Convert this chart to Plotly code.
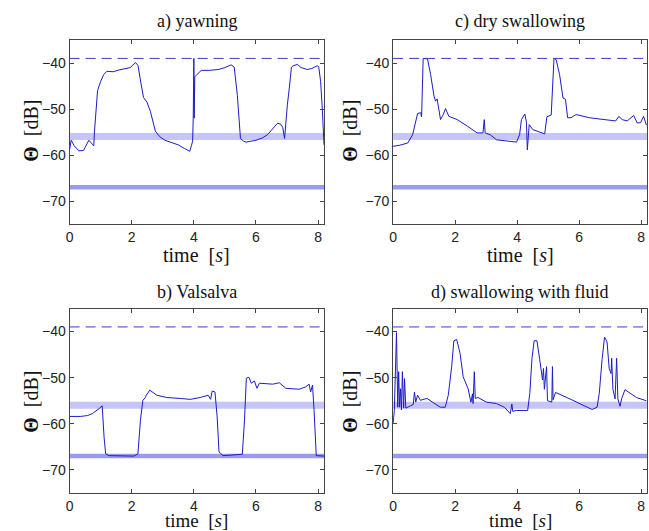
import plotly.graph_objects as go

# ---------------- data ----------------
panel_titles = ["a) yawning", "c) dry swallowing", "b) Valsalva", "d) swallowing with fluid"]
x_ticks = [0, 2, 4, 6, 8]
y_ticks = [-40, -50, -60, -70]
threshold_dashed = -39.0
band_upper = -56.0
band_lower = -67.0

t_a = [0.0, 0.05, 0.15, 0.3, 0.45, 0.55, 0.62, 0.7, 0.78, 0.8, 0.85, 0.9, 1.0, 1.1, 1.2, 1.4, 1.6, 1.8,
       1.95, 2.12, 2.2, 2.3, 2.38, 2.49, 2.6, 2.76, 2.9, 3.07, 3.3, 3.5, 3.7, 3.87, 3.92, 3.96, 3.98,
       4.0, 4.01, 4.03, 4.1, 4.24, 4.5, 4.8, 5.0, 5.2, 5.3, 5.4, 5.5, 5.6, 5.68, 5.8, 6.0, 6.2, 6.37,
       6.5, 6.6, 6.69, 6.8, 6.86, 6.92, 6.96, 7.01, 7.08, 7.14, 7.2, 7.33, 7.45, 7.65, 7.8, 7.97, 8.02,
       8.08, 8.13, 8.19]
v_a = [-58.8, -56.8, -58.0, -59.1, -59.0, -57.6, -56.8, -57.4, -58.0, -55.0, -50.0, -46.0, -44.0, -42.5,
       -41.8, -41.9, -41.5, -41.2, -41.0, -39.9, -40.5, -44.5, -47.5, -48.5, -50.5, -54.8, -56.0, -56.8,
       -57.4, -57.8, -58.6, -59.2, -58.0, -57.0, -52.0, -39.0, -52.0, -43.0, -42.5, -41.6, -41.6, -41.4,
       -41.0, -40.4, -40.9, -47.0, -56.4, -57.0, -57.2, -57.1, -56.8, -56.3, -55.6, -54.6, -53.8, -53.1,
       -53.3, -54.0, -56.4, -53.0, -49.1, -45.0, -40.9, -40.6, -40.3, -41.0, -41.4, -41.2, -40.6, -40.8,
       -44.0, -49.3, -57.8]

t_c = [0.0, 0.2, 0.47, 0.63, 0.79, 0.89, 0.92, 0.97, 1.11, 1.21, 1.32, 1.37, 1.42, 1.48, 1.53, 1.62,
       1.69, 1.8, 2.07, 2.39, 2.71, 2.9, 2.94, 2.97, 3.13, 3.34, 3.66, 3.98, 4.08, 4.14, 4.25, 4.3, 4.33,
       4.39, 4.51, 4.7, 4.89, 4.96, 5.1, 5.19, 5.26, 5.37, 5.48, 5.56, 5.63, 5.74, 5.9, 6.33, 6.75, 7.18,
       7.28, 7.39, 7.55, 7.76, 7.87, 7.98, 8.08, 8.17]
v_c = [-58.1, -57.9, -57.4, -55.6, -51.0, -50.8, -51.7, -39.0, -39.1, -42.5, -47.2, -48.3, -47.8, -50.8,
       -52.3, -51.2, -49.9, -51.6, -52.3, -53.7, -55.2, -55.2, -52.3, -55.2, -55.6, -56.7, -57.0, -57.2,
       -55.6, -52.3, -51.1, -52.8, -58.9, -53.4, -54.5, -54.9, -55.4, -51.7, -51.3, -39.0, -39.3, -42.5,
       -47.6, -47.9, -51.9, -51.9, -51.2, -51.9, -52.3, -52.6, -51.6, -52.3, -52.6, -51.4, -53.0, -53.0,
       -51.6, -53.5]

t_b = [0.0, 0.36, 0.58, 0.73, 0.95, 1.05, 1.11, 1.16, 1.27, 1.64, 2.07, 2.2, 2.28, 2.36, 2.44, 2.47,
       2.58, 2.81, 3.13, 3.56, 3.88, 4.2, 4.46, 4.54, 4.59, 4.68, 4.75, 4.81, 4.94, 5.56, 5.63, 5.69,
       5.77, 5.85, 5.95, 6.03, 6.11, 6.54, 6.75, 6.96, 7.39, 7.6, 7.71, 7.76, 7.82, 7.87, 7.94, 8.19]
v_b = [-58.4, -58.4, -58.2, -57.8, -56.7, -56.1, -62.9, -66.5, -66.9, -67.0, -67.0, -66.5, -59.2, -54.9,
       -54.3, -53.8, -52.7, -53.8, -54.3, -54.5, -54.7, -54.3, -53.8, -54.7, -52.9, -53.1, -58.5, -66.1,
       -66.9, -66.6, -59.2, -50.1, -49.9, -51.2, -50.7, -52.3, -51.2, -51.4, -51.1, -52.3, -52.5, -52.0,
       -51.4, -53.1, -51.6, -57.1, -66.9, -67.0]

t_d = [0.0, 0.04, 0.11, 0.15, 0.18, 0.21, 0.24, 0.27, 0.3, 0.34, 0.37, 0.41, 0.56, 0.65, 0.69, 0.73,
       0.79, 0.88, 1.09, 1.31, 1.52, 1.68, 1.78, 1.89, 1.96, 2.05, 2.16, 2.26, 2.42, 2.51, 2.56, 2.58,
       2.62, 2.65, 2.74, 3.01, 3.33, 3.59, 3.78, 3.83, 3.86, 3.97, 4.34, 4.41, 4.48, 4.55, 4.64, 4.73,
       4.82, 4.85, 4.88, 4.95, 4.98, 5.12, 5.14, 5.16, 5.24, 5.67, 6.1, 6.42, 6.58, 6.65, 6.74, 6.82,
       6.9, 6.97, 7.03, 7.05, 7.09, 7.16, 7.21, 7.25, 7.32, 7.37, 7.48, 7.59, 7.85, 8.17]
v_d = [-60.0, -57.1, -40.2, -56.4, -48.7, -56.4, -52.4, -57.0, -48.7, -56.6, -50.2, -56.6, -56.1, -55.8,
       -53.1, -55.3, -53.8, -54.9, -54.5, -55.5, -56.4, -56.4, -53.8, -47.6, -42.0, -41.7, -44.7, -49.8,
       -52.4, -55.3, -53.5, -55.6, -48.7, -54.5, -54.3, -55.3, -55.6, -56.4, -57.8, -55.7, -57.3, -57.1,
       -57.1, -53.4, -45.8, -42.0, -42.0, -46.1, -50.5, -48.0, -52.5, -47.6, -55.0, -55.3, -47.6, -54.8,
       -53.2, -54.5, -55.9, -56.9, -56.4, -53.4, -46.1, -41.2, -42.2, -48.0, -49.1, -45.8, -52.5, -54.6,
       -45.8, -54.6, -56.2, -54.6, -52.6, -53.1, -54.3, -55.0]

series_t = [t_a, t_c, t_b, t_d]
series_v = [v_a, v_c, v_b, v_d]

# ---------------- layout ----------------
W, H = 649, 531


def fx(px):
    return px / W


def fy(py):
    return 1 - py / H


x_doms = [[fx(66), fx(322)], [fx(391.5), fx(647)]]
y_doms = [[fy(224), fy(40)], [fy(493), fy(308.5)]]

fig = go.Figure()
trace_color = "#1c1cc8"
serif = "Liberation Serif, Times New Roman, serif"
sans = "Liberation Sans, Arial, sans-serif"

shapes = []
annotations = []
for i in range(4):
    col = i % 2
    row = i // 2
    n = "" if i == 0 else str(i + 1)
    xa = "x" + n
    ya = "y" + n
    fig.add_trace(go.Scatter(x=series_t[i], y=series_v[i], mode="lines",
                             line=dict(color=trace_color, width=1), xaxis=xa, yaxis=ya,
                             showlegend=False, hoverinfo="skip"))
    axis_common = dict(showline=True, mirror="ticks", linecolor="#444444", linewidth=1,
                       ticks="inside", ticklen=4, tickcolor="#444444", showgrid=False,
                       zeroline=False, tickfont=dict(family=sans, size=14, color="#222222"))
    fig.update_layout(**{
        ("xaxis" + n): dict(domain=x_doms[col], anchor=ya, range=[0, 8.19], tickvals=x_ticks,
                            **axis_common),
        ("yaxis" + n): dict(domain=y_doms[row], anchor=xa, range=[-75, -35], tickvals=y_ticks,
                            **axis_common),
    })
    xref_dom = xa + " domain"
    shapes.append(dict(type="line", xref=xref_dom, yref=ya, x0=0, x1=1, y0=band_upper, y1=band_upper,
                       line=dict(color="rgba(150,150,240,0.55)", width=7), layer="below"))
    shapes.append(dict(type="line", xref=xref_dom, yref=ya, x0=0, x1=1, y0=band_lower, y1=band_lower,
                       line=dict(color="rgba(120,120,235,0.75)", width=4.5), layer="below"))
    shapes.append(dict(type="line", xref=xref_dom, yref=ya, x0=0, x1=1,
                       y0=threshold_dashed, y1=threshold_dashed,
                       line=dict(color="#3a3ad0", width=1, dash="10px,6px")))
    xc = (x_doms[col][0] + x_doms[col][1]) / 2
    title_y = [22, 292][row]
    xlab_y = [255, 520][row]
    xlab_size = [20, 19][row]
    ylab_y = [131, 402][row]
    ylab_x = [27, 348][col]
    annotations.append(dict(text=panel_titles[i], x=xc, y=fy(title_y), xref="paper", yref="paper",
                            xanchor="center", yanchor="middle", showarrow=False,
                            font=dict(family=serif, size=18, color="#111111")))
    annotations.append(dict(text="time  [<i>s</i>]", x=xc, y=fy(xlab_y), xref="paper", yref="paper",
                            xanchor="center", yanchor="middle", showarrow=False,
                            font=dict(family=serif, size=xlab_size, color="#111111")))
    annotations.append(dict(text="<b>Θ</b>  [dB]", x=fx(ylab_x), y=fy(ylab_y), xref="paper",
                            yref="paper", xanchor="center", yanchor="middle", showarrow=False,
                            textangle=-90, font=dict(family=serif, size=20, color="#111111")))

fig.update_layout(width=W, height=H, margin=dict(l=0, r=0, t=0, b=0),
                  paper_bgcolor="white", plot_bgcolor="white",
                  shapes=shapes, annotations=annotations)

fig.write_html("out.html", config={"displayModeBar": False},
               post_script="document.body.style.margin='0';document.body.style.overflow='hidden';")
